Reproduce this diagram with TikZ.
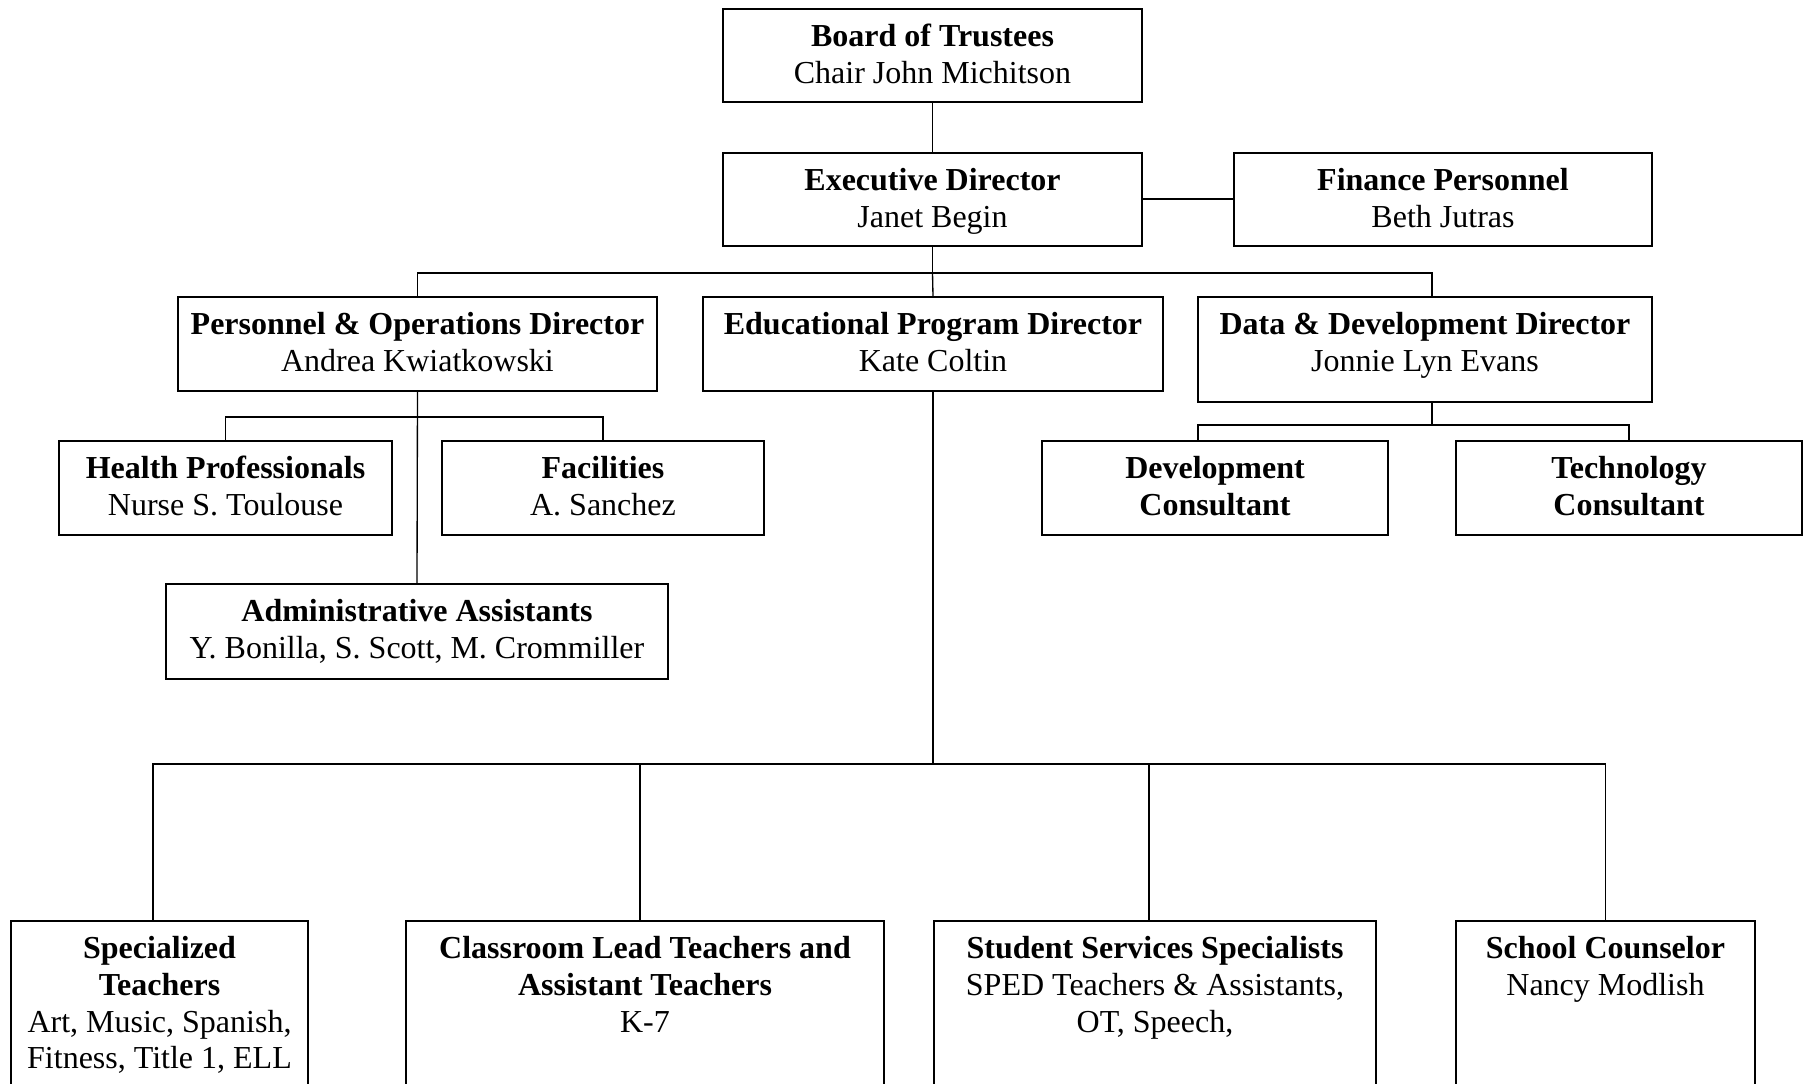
\documentclass[tikz,border=0pt]{standalone}
\usepackage{fontspec}
\setmainfont{Liberation Serif}
\usepackage{tikz}
\newlength{\pxu}
\setlength{\pxu}{0.375pt}
\newcommand{\orgtext}[4]{\parbox[t][#2\pxu][t]{#1\pxu}{\centering\vspace{4.4pt}\strut\textbf{#3}\\#4}}

\begin{document}
\begin{tikzpicture}[x=0.375pt, y=-0.375pt,
    orgbox/.style={draw, line width=0.75pt, anchor=north, inner sep=0pt, font=\fontsize{12pt}{13.8pt}\selectfont},
    link/.style={line width=0.5pt}]
        \useasboundingbox (0,0) rectangle (1803,1084);
        \node[orgbox] (board) at (932.5,8) {\orgtext{419}{93}{Board of Trustees}{Chair John Michitson}};
        \node[orgbox] (exec) at (932.5,152) {\orgtext{419}{93}{Executive Director}{Janet Begin}};
        \node[orgbox] (fin) at (1443,152) {\orgtext{418}{93}{Finance Personnel}{Beth Jutras}};
        \node[orgbox] (pod) at (417.5,296) {\orgtext{479}{94}{Personnel \& Operations Director}{Andrea Kwiatkowski}};
        \node[orgbox] (epd) at (933,296) {\orgtext{460}{94}{Educational Program Director}{Kate Coltin}};
        \node[orgbox] (ddd) at (1425,296) {\orgtext{454}{105}{Data \& Development Director}{Jonnie Lyn Evans}};
        \node[orgbox] (hp) at (225.5,440) {\orgtext{333}{94}{Health Professionals}{Nurse S. Toulouse}};
        \node[orgbox] (fac) at (603,440) {\orgtext{322}{94}{Facilities}{A. Sanchez}};
        \node[orgbox] (adm) at (417,583) {\orgtext{502}{95}{Administrative Assistants}{Y. Bonilla, S. Scott, M. Crommiller}};
        \node[orgbox] (dc) at (1215,440) {\orgtext{346}{94}{Development\\Consultant}{}};
        \node[orgbox] (tc) at (1629,440) {\orgtext{346}{94}{Technology\\Consultant}{}};
        \node[orgbox] (st) at (159.5,920) {\orgtext{297}{250}{Specialized\\Teachers}{Art, Music, Spanish,\\Fitness, Title 1, ELL}};
        \node[orgbox] (clt) at (645,920) {\orgtext{478}{250}{Classroom Lead Teachers and\\Assistant Teachers}{K-7}};
        \node[orgbox] (sss) at (1155,920) {\orgtext{442}{250}{Student Services Specialists}{SPED Teachers \& Assistants,\\OT, Speech,}};
        \node[orgbox] (sc) at (1605.5,920) {\orgtext{299}{250}{School Counselor}{Nancy Modlish}};

        \draw[link] (board.south) -- (exec.north);
        \draw[line width=0.75pt] (exec.east) -- (fin.west);
        \draw[link] (exec.south) -- ++(0,26) coordinate (b1) -| (pod.north);
        \draw[link] (b1) -| ([xshift=2.6pt]ddd.north);
        \draw[link] (b1) -- (epd.north);
        \draw[link] (pod.south) -- ++(0,25) coordinate (b2) -| (hp.north);
        \draw[link] (b2) -| (fac.north);
        \draw[link] (pod.south) -- (adm.north);
        \draw[link] ([xshift=2.6pt]ddd.south) -- ++(0,22) coordinate (b3) -| ([xshift=-6.4pt]dc.north);
        \draw[link] (b3) -| (tc.north);
        \draw[link] (epd.south) -- ++(0,372) coordinate (b4) -| ([xshift=-2.4pt]st.north);
        \draw[link] (b4) -| ([xshift=-1.9pt]clt.north);
        \draw[link] (b4) -| ([xshift=-2.2pt]sss.north);
        \draw[link] (b4) -| (sc.north);
    \end{tikzpicture}
\end{document}
